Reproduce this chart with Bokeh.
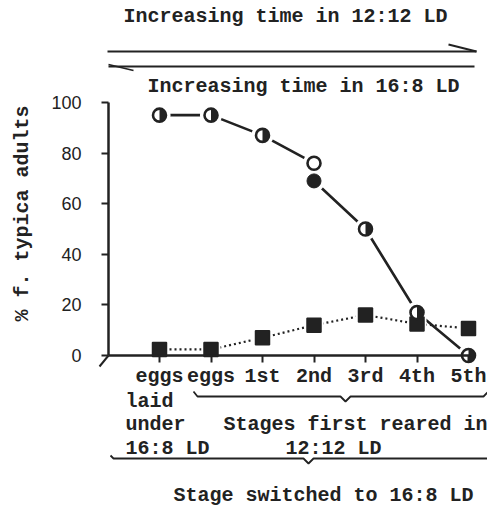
import math
from bokeh.plotting import figure
from bokeh.models import Range1d, FixedTicker, Label, LinearAxis
from bokeh.embed import file_html
from bokeh.resources import INLINE

# ---------------- data ----------------
stages = ["eggs", "eggs", "1st", "2nd", "3rd", "4th", "5th"]
stage_pos = [0, 1, 2, 3, 4, 5, 6]
typica_switched = [95, 95, 87, 76, 50, 17, 0]      # circles, solid line
typica_extra_pos = [3]                              # second (filled) point at 2nd
typica_extra = [69]
typica_control = [2.4, 2.4, 7, 12, 16, 12.5, 10.7]  # squares, dotted line
y_ticks = [0, 20, 40, 60, 80, 100]

# ---------------- geometry (reference pixel -> data) ----------------
W, H = 487, 506
X0, DX = 159.0, 51.5
Y0, DY = 355.0, 2.53
TS = 6  # text baseline correction
def fx(rx):
    return (rx - X0) / DX
def fy(ry):
    return (Y0 - ry) / DY

MONO = "Liberation Mono"
INK = "#222222"

p = figure(width=W, height=H, output_backend="svg", toolbar_location=None,
           x_range=Range1d(fx(0), fx(W)), y_range=Range1d(fy(H), fy(0)),
           x_axis_type=None, y_axis_type=None, min_border=0)
p.title.visible = False
p.outline_line_color = None
p.background_fill_color = "white"
p.border_fill_color = "white"

# ---------------- axes ----------------
xaxis = LinearAxis(fixed_location=0, ticker=FixedTicker(ticks=stage_pos),
                   major_label_overrides={i: s for i, s in zip(stage_pos, stages)},
                   bounds=(fx(108), 6.05))
xaxis.axis_line_width = 2.5
xaxis.axis_line_color = INK
xaxis.major_tick_line_width = 2
xaxis.major_tick_line_color = INK
xaxis.major_tick_in = 0
xaxis.major_tick_out = 7
xaxis.minor_tick_line_color = None
xaxis.major_label_standoff = 2
xaxis.major_label_text_font = MONO
xaxis.major_label_text_font_size = "20px"
xaxis.major_label_text_font_style = "bold"
xaxis.major_label_text_color = INK
p.add_layout(xaxis, "below")

yaxis = LinearAxis(fixed_location=fx(108), ticker=FixedTicker(ticks=y_ticks), bounds=(0, 100))
yaxis.axis_line_width = 2.5
yaxis.axis_line_color = INK
yaxis.major_tick_line_width = 2
yaxis.major_tick_line_color = INK
yaxis.major_tick_in = 0
yaxis.major_tick_out = 7
yaxis.minor_tick_line_color = None
yaxis.major_label_standoff = 20
yaxis.major_label_text_font = "Liberation Sans"
yaxis.major_label_text_font_size = "18px"
yaxis.major_label_text_color = INK
p.add_layout(yaxis, "left")

# ---------------- series ----------------
line_x = stage_pos[:4] + typica_extra_pos + stage_pos[4:]
line_y = typica_switched[:4] + typica_extra + typica_switched[4:]

p.line(stage_pos, typica_control, line_color=INK, line_width=2.2, line_dash="2 3")
p.line(line_x, line_y, line_color=INK, line_width=2.6)

# white halos giving the gaps around markers
p.scatter(line_x, line_y, marker="circle", size=22, fill_color="white", line_color=None)
p.scatter(stage_pos, typica_control, marker="square", size=19, fill_color="white", line_color=None)

p.scatter(stage_pos, typica_control, marker="square", size=14,
          fill_color=INK, line_color=INK, line_width=1.5)

p.scatter(stage_pos, typica_switched, marker="circle", size=13,
          fill_color="white", line_color=INK, line_width=2.6)
half_idx = [i for i in range(len(stage_pos)) if i != 3]
p.wedge([stage_pos[i] for i in half_idx], [typica_switched[i] for i in half_idx],
        radius=6.3, radius_units="screen", start_angle=-math.pi / 2, end_angle=math.pi / 2,
        fill_color=INK, line_color=None)
p.scatter(typica_extra_pos, typica_extra, marker="circle", size=14,
          fill_color=INK, line_color=INK, line_width=1)

# ---------------- decorations ----------------
def deco(pts, w=2):
    p.line([fx(a) for a, b in pts], [fy(b) for a, b in pts], line_color=INK, line_width=w)

deco([(107, 51), (476, 51)])
deco([(448, 44), (476, 51)])
deco([(108, 66), (474, 66)], 1.8)
deco([(108, 64), (133, 70)], 1.5)
deco([(108, 355), (99, 366)])
deco([(193, 391), (197, 396), (340, 396), (345, 401), (350, 396), (483, 396), (487, 392)], 1.8)
deco([(110, 455), (113, 458), (303, 458), (308, 463), (313, 458), (490, 458)], 1.8)

def txt(s, rx, ry, align="left", angle=0.0):
    if angle:
        rx -= TS
    else:
        ry -= TS
    p.add_layout(Label(x=fx(rx), y=fy(ry), text=s, text_font=MONO, text_font_size="20px",
                       text_font_style="bold", text_color=INK, text_align=align,
                       text_baseline="alphabetic", angle=angle))

txt("Increasing time in 12:12 LD", 123, 22)
txt("Increasing time in 16:8 LD", 147, 92)
txt("laid", 125, 407)
txt("under", 125, 430)
txt("Stages first reared in", 223, 430)
txt("16:8 LD", 125, 454)
txt("12:12 LD", 285, 454)
txt("Stage switched to 16:8 LD", 173, 501)
txt("% f. typica adults", 28, 213, align="center", angle=math.pi / 2)

open("out.html", "w").write(file_html(p, INLINE))
